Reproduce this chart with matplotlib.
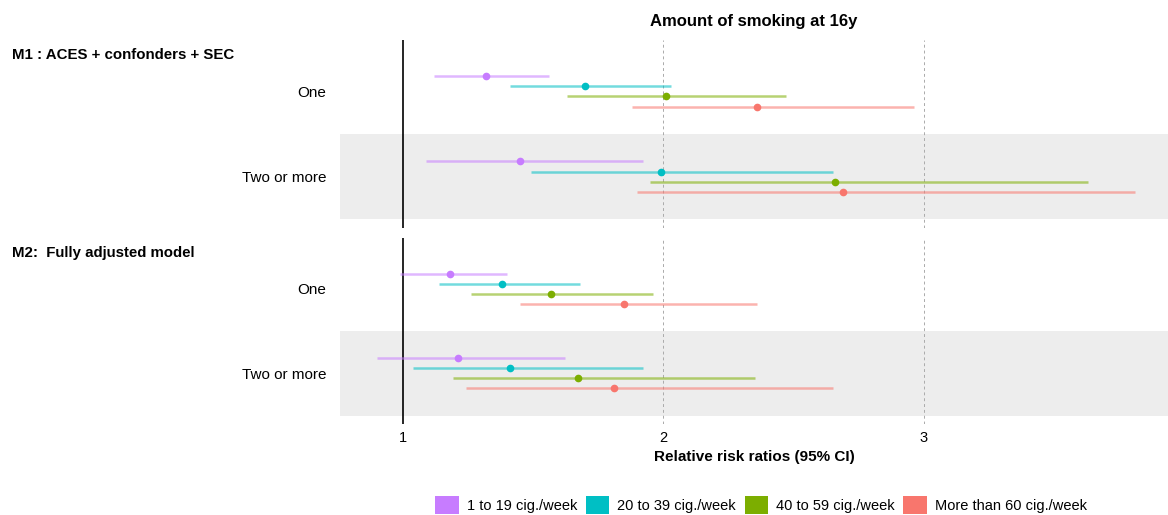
import matplotlib
matplotlib.use("Agg")
import matplotlib.pyplot as plt
from matplotlib.patches import Patch

plt.rcParams["font.family"] = ["Liberation Sans", "DejaVu Sans"]

categories = ["One", "Two or more"]
groups = ["1 to 19 cig./week", "20 to 39 cig./week", "40 to 59 cig./week", "More than 60 cig./week"]
colors = ["#C77CFF", "#00BFC4", "#7CAE00", "#F8766D"]
models = ["M1 : ACES + confonders + SEC", "M2:  Fully adjusted model"]

# estimates per model -> category -> group
m1_rr = [[1.32, 1.70, 2.01, 2.36], [1.45, 1.99, 2.66, 2.69]]
m1_lo = [[1.12, 1.41, 1.63, 1.88], [1.09, 1.49, 1.95, 1.90]]
m1_hi = [[1.56, 2.03, 2.47, 2.96], [1.92, 2.65, 3.63, 3.81]]
m2_rr = [[1.18, 1.38, 1.57, 1.85], [1.21, 1.41, 1.67, 1.81]]
m2_lo = [[0.99, 1.14, 1.26, 1.45], [0.90, 1.04, 1.19, 1.24]]
m2_hi = [[1.40, 1.68, 1.96, 2.36], [1.62, 1.92, 2.35, 2.65]]

data = [(m1_rr, m1_lo, m1_hi), (m2_rr, m2_lo, m2_hi)]
offsets = [-0.18, -0.06, 0.06, 0.18]

W, H = 1168, 515
fig = plt.figure(figsize=(W / 100, H / 100), dpi=100)

panels = [(40, 228), (238, 424)]
axes = []
for (top, bot), name, (rr, lo, hi) in zip(panels, models, data):
    ax = fig.add_axes([340 / W, (H - bot) / H, 828 / W, (bot - top) / H])
    axes.append(ax)
    ax.set_xlim(0.758, 3.937)
    ax.set_ylim(1.6, -0.6)
    ax.axhspan(0.5, 1.5, color="#EDEDED", zorder=0, lw=0)
    for x in (2, 3):
        ax.axvline(x, color="#AAAAAA", ls=(0, (3, 3)), lw=0.7, zorder=1)
    ax.axvline(1, color="black", lw=1.2, zorder=2)
    for ci in range(len(categories)):
        for gi in range(len(groups)):
            y = ci + offsets[gi]
            ax.hlines(y, lo[ci][gi], hi[ci][gi], color=colors[gi], lw=1.8, alpha=0.55, zorder=3)
            ax.plot(rr[ci][gi], y, "o", color=colors[gi], ms=4.5, zorder=4)
    ax.set_yticks(range(len(categories)))
    ax.set_yticklabels(categories, fontsize=11)
    ax.tick_params(axis="y", length=0, pad=10)
    ax.tick_params(axis="x", length=0, pad=5)
    for s in ax.spines.values():
        s.set_visible(False)
    fig.text(12 / W, 1 - (top + 15) / H, name, fontsize=10.8, fontweight="bold", va="center", ha="left")

axes[0].set_xticks([])
axes[0].set_title("Amount of smoking at 16y", fontsize=12, fontweight="bold", pad=10)
axes[1].set_xticks([1, 2, 3])
axes[1].set_xticklabels(["1", "2", "3"], fontsize=10.5)
axes[1].set_xlabel("Relative risk ratios (95% CI)", fontsize=11, fontweight="bold", labelpad=4)

handles = [Patch(facecolor=c, edgecolor="none") for c in colors]
fig.legend(handles, groups, loc="center", bbox_to_anchor=(761 / W, 1 - 505 / H), ncol=4,
           frameon=False, fontsize=10.5, handlelength=1.6, handleheight=1.6, columnspacing=0.6,
           handletextpad=0.55)

fig.savefig("out.png", dpi=100)
